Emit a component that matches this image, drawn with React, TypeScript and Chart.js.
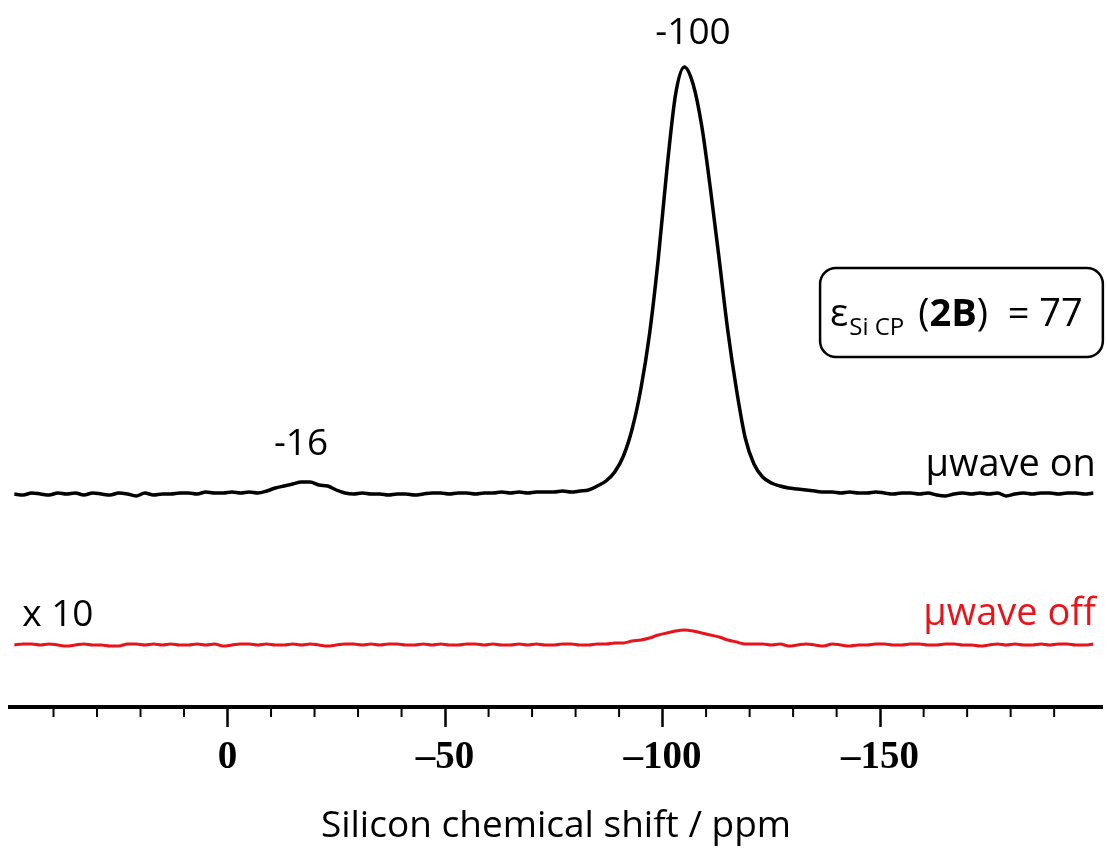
import React, { useEffect, useRef } from 'react';
import { Chart, registerables } from 'chart.js';

Chart.register(...registerables);

// Chemical shift grid (ppm)
const shiftPpm = [
  49, 47, 45, 43, 41, 39, 37, 35, 33, 31, 29, 27, 25, 23, 21, 19, 17, 15, 13, 11, 9, 7, 5, 3, 1,
  -1, -3, -5, -7, -9, -11, -13, -15, -17, -19,
  -21, -23, -25, -27, -29, -31, -33, -35, -37, -39,
  -41, -43, -45, -47, -49, -51, -53, -55, -57, -59,
  -61, -63, -65, -67, -69, -71, -73, -75, -77, -79,
  -81, -83, -85, -87, -89, -91, -93, -95, -97, -99,
  -101, -103, -105, -107, -109, -111, -113, -115, -117, -119,
  -121, -123, -125, -127, -129, -131, -133, -135, -137, -139,
  -141, -143, -145, -147, -149, -151, -153, -155, -157, -159,
  -161, -163, -165, -167, -169, -171, -173, -175, -177, -179,
  -181, -183, -185, -187, -189, -191, -193, -195, -197, -199,
];

// µwave on spectrum (intensity above its baseline)
const signalOn = [
  0, -1, 1, 0, -1, 1, 0, 1, -1, 1, 0, -1, 1, 0, -2, 1, -1, 0, 0, 1, 1, 0, 2, 1, 1,
  2, 1, 2, 1, 3, 6, 8, 10, 12, 12,
  9, 8, 4, 1, 0, 1, 0, 0, -1, 0,
  0, -1, 0, 1, 1, 0, 1, 1, 0, 1,
  1, 2, 1, 2, 1, 2, 2, 2, 3, 2,
  3, 4, 8, 13, 22, 38, 65, 105, 160, 235,
  325, 400, 427, 410, 368, 305, 235, 163, 104, 56,
  30, 17, 11, 8, 6, 5, 4, 3, 2, 2,
  1, 2, 1, 1, 2, 1, 0, 1, 1, 0,
  1, -1, -2, 0, 1, 0, 1, 0, 1, -2,
  0, 1, 0, 1, 1, 0, 1, 1, 0, 1,
];

// µwave off spectrum (x10, intensity above its baseline)
const signalOff = [
  0, 1, 1, 0, 1, 0, -1, 0, 1, 0, 0, -1, -1, 1, 1, 0, 1, 0, 1, 0, 0, 1, 0, 1, -1,
  0, 1, 1, 0, 1, 0, 0, 1, 0, 1,
  0, -1, 0, 1, 1, 0, 1, 0, 1, 1,
  0, 0, 1, 0, 1, 0, 0, 1, 1, 0,
  1, 0, 0, 1, 0, 1, 0, 0, 1, 1,
  0, 0, 1, 1, 2, 2, 4, 5, 7, 10,
  12, 14, 15, 14, 12, 10, 8, 5, 3, 1,
  1, 1, 0, 1, -1, 0, 1, 0, -1, 1,
  0, -1, 0, 0, 1, 1, 0, 0, 1, 1,
  0, 0, 1, 1, 0, 0, -1, 0, 1, 0,
  1, 0, 0, 1, 0, 1, 1, 0, 0, 1,
];

// vertical stacking offsets of the two traces
const ON_OFFSET = 213;
const OFF_OFFSET = 62;

const X_MIN = -201;
const X_MAX = 50;
const Y_MAX = 680;
const majorTicks = [0, -50, -100, -150];
const allTicks = [
  40, 30, 20, 10, 0, -10, -20, -30, -40, -50, -60, -70, -80, -90, -100,
  -110, -120, -130, -140, -150, -160, -170, -180, -190,
];

const RED = '#e8141c';
const TEXT_FONT = '"Open Sans", "Noto Sans", sans-serif';

const overlayPlugin = {
  id: 'overlay',
  afterDraw(chart: any) {
    const { ctx, chartArea } = chart;
    const x = chart.scales.x;
    const y = chart.scales.y;
    ctx.save();
    // minor ticks
    ctx.strokeStyle = '#000';
    ctx.lineWidth = 2;
    for (const t of x.ticks) {
      const v = t.value;
      if (majorTicks.includes(v)) continue;
      const px = x.getPixelForValue(v);
      ctx.beginPath();
      ctx.moveTo(px, chartArea.bottom);
      ctx.lineTo(px, chartArea.bottom + 10);
      ctx.stroke();
    }

    // peak labels
    ctx.fillStyle = '#000';
    ctx.textBaseline = 'alphabetic';
    ctx.font = `37px ${TEXT_FONT}`;
    ctx.textAlign = 'center';
    ctx.fillText('-100', x.getPixelForValue(-107), y.getPixelForValue(663));
    ctx.fillText('-16', x.getPixelForValue(-16.9), y.getPixelForValue(252));
    ctx.textAlign = 'left';
    ctx.fillText('x 10', x.getPixelForValue(47.2), y.getPixelForValue(81));

    ctx.font = `38px ${TEXT_FONT}`;
    ctx.textAlign = 'right';
    ctx.fillText('\u03bcwave on', x.getPixelForValue(-199.6), y.getPixelForValue(231));
    ctx.fillStyle = RED;
    ctx.fillText('\u03bcwave off', x.getPixelForValue(-199.6), y.getPixelForValue(82));
    ctx.fillStyle = '#000';

    // enhancement box
    const bx0 = x.getPixelForValue(-136.2);
    const bx1 = x.getPixelForValue(-201.2);
    const by0 = y.getPixelForValue(439);
    const by1 = y.getPixelForValue(350);
    ctx.lineWidth = 2.5;
    ctx.strokeStyle = '#000';
    ctx.beginPath();
    ctx.roundRect(bx0, by0, bx1 - bx0, by1 - by0, 16);
    ctx.stroke();

    const base = y.getPixelForValue(381);
    let cx = bx0 + 10;
    ctx.textAlign = 'left';
    ctx.font = `38px ${TEXT_FONT}`;
    ctx.fillText('\u03b5', cx, base);
    cx += ctx.measureText('\u03b5').width + 1;
    ctx.font = `24px ${TEXT_FONT}`;
    ctx.fillText('Si CP', cx, base + 9);
    cx += ctx.measureText('Si CP').width + 14;
    ctx.font = `38px ${TEXT_FONT}`;
    ctx.fillText('(', cx, base);
    cx += ctx.measureText('(').width;
    ctx.font = `bold 38px ${TEXT_FONT}`;
    ctx.fillText('2B', cx, base);
    cx += ctx.measureText('2B').width;
    ctx.font = `38px ${TEXT_FONT}`;
    ctx.fillText(')  = 77', cx, base);
    ctx.restore();
  },
};

export default function App() {
  const canvasRef = useRef<HTMLCanvasElement | null>(null);

  useEffect(() => {
    const canvas = canvasRef.current;
    if (!canvas) return;
    const onData = shiftPpm.map((s, i) => ({ x: s, y: ON_OFFSET + signalOn[i] }));
    const offData = shiftPpm.map((s, i) => ({ x: s, y: OFF_OFFSET + signalOff[i] }));

    const chart = new Chart(canvas, {
      type: 'line',
      data: {
        datasets: [
          {
            label: '\u03bcwave on',
            data: onData,
            borderColor: '#000',
            borderWidth: 3.5,
            pointRadius: 0,
            cubicInterpolationMode: 'monotone',
            borderJoinStyle: 'round',
            fill: false,
          },
          {
            label: '\u03bcwave off',
            data: offData,
            borderColor: RED,
            borderWidth: 3,
            pointRadius: 0,
            cubicInterpolationMode: 'monotone',
            borderJoinStyle: 'round',
            fill: false,
          },
        ],
      },
      options: {
        animation: false,
        responsive: false,
        devicePixelRatio: 1,
        layout: { padding: { top: 27, left: 10, right: 5, bottom: 0 } },
        plugins: {
          legend: { display: false },
          tooltip: { enabled: false },
        },
        scales: {
          x: {
            type: 'linear',
            reverse: true,
            min: X_MIN,
            max: X_MAX,
            bounds: 'data',
            afterBuildTicks: (scale: any) => {
              scale.ticks = allTicks.map((v) => ({ value: v }));
            },
            afterFit: (scale: any) => {
              scale.height = 142;
            },
            border: { display: true, color: '#000', width: 4 },
            grid: {
              display: true,
              drawOnChartArea: false,
              drawTicks: true,
              tickLength: 20,
              tickWidth: 2.5,
              tickColor: (ctx: any) =>
                ctx.tick && majorTicks.includes(ctx.tick.value) ? '#000' : 'rgba(0,0,0,0)',
            },
            ticks: {
              autoSkip: false,
              maxRotation: 0,
              minRotation: 0,
              padding: 8,
              color: '#000',
              font: { family: '"Liberation Serif", "Times New Roman", serif', size: 39, weight: 'bold' },
              callback: (value: any) => {
                const v = Number(value);
                if (!majorTicks.includes(v)) return '';
                return v === 0 ? '0' : '\u2013' + Math.abs(v);
              },
            },
            title: {
              display: true,
              text: 'Silicon chemical shift / ppm',
              color: '#000',
              font: { family: TEXT_FONT, size: 37 },
              padding: { top: 0, bottom: 0 },
            },
          },
          y: {
            type: 'linear',
            display: false,
            min: 0,
            max: Y_MAX,
          },
        },
      },
      plugins: [overlayPlugin],
    });
    return () => chart.destroy();
  }, []);

  return (
    <div style={{ position: 'absolute', left: 0, top: 0, width: 1107, height: 849, background: '#fff' }}>
      <canvas ref={canvasRef} width={1107} height={849} style={{ display: 'block', width: 1107, height: 849 }} />
    </div>
  );
}
